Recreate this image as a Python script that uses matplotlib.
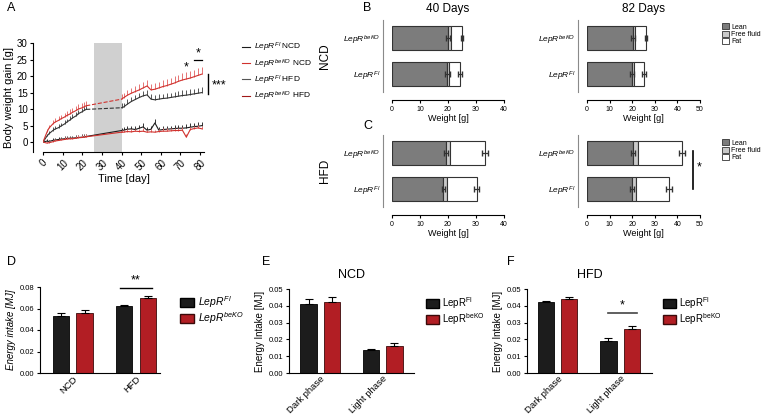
import numpy as np
import matplotlib
matplotlib.use('Agg')
import matplotlib.pyplot as plt
from matplotlib.lines import Line2D
from matplotlib.patches import Patch

plt.rcParams['font.family'] = ['Liberation Sans', 'DejaVu Sans']
plt.rcParams['mathtext.fontset'] = 'custom'
plt.rcParams['mathtext.rm'] = 'Liberation Sans'
plt.rcParams['mathtext.it'] = 'Liberation Sans:italic'
plt.rcParams['mathtext.bf'] = 'Liberation Sans:bold'

# ---- A: body weight gain over time ----
days = [0, 2, 3, 5, 6, 8, 9, 11, 12, 14, 15, 17, 18, 20, 21, 22,
        40, 41, 43, 45, 47, 49, 51, 53, 55, 57, 59, 61, 63, 65, 67, 69, 71, 73, 75, 77, 79, 81]
n_early = 16  # points before the gap (grey box)

fl_ncd = [0, 0.3, 0.2, 0.5, 0.6, 0.8, 0.9, 1.0, 1.1, 1.2, 1.2, 1.3, 1.4, 1.5, 1.6, 1.7,
          3.5, 3.6, 3.9, 4.0, 3.8, 4.2, 4.6, 3.6, 3.9, 5.8, 3.6, 3.8, 3.9, 4.0, 4.1, 4.2, 4.2, 4.3, 4.5, 4.7, 4.8, 5.0]
fl_ncd_err = [0.2, 0.5, 0.5, 0.6, 0.6, 0.6, 0.6, 0.7, 0.7, 0.7, 0.7, 0.7, 0.7, 0.8, 0.8, 0.8,
              0.9, 0.9, 1.0, 1.0, 1.0, 1.1, 1.1, 1.0, 1.0, 1.2, 1.0, 1.0, 1.0, 1.0, 1.1, 1.1, 1.1, 1.1, 1.2, 1.2, 1.2, 1.2]
ko_ncd = [0, -0.3, -0.2, 0.1, 0.3, 0.5, 0.6, 0.8, 0.9, 1.0, 1.0, 1.2, 1.3, 1.4, 1.5, 1.6,
          3.0, 3.0, 3.2, 3.1, 3.3, 3.2, 3.3, 3.0, 3.1, 3.0, 3.2, 3.3, 3.3, 3.4, 3.5, 3.5, 3.6, 1.5, 3.8, 4.1, 4.3, 4.0]
ko_ncd_err = [0.2, 0.4, 0.4, 0.5, 0.5, 0.5, 0.5, 0.6, 0.6, 0.6, 0.6, 0.6, 0.7, 0.7, 0.7, 0.7,
              0.8, 0.8, 0.8, 0.8, 0.8, 0.9, 0.9, 0.8, 0.8, 0.8, 0.8, 0.9, 0.9, 0.9, 0.9, 0.9, 0.9, 1.0, 0.9, 0.9, 0.9, 0.9]
fl_hfd = [0, 1.8, 2.5, 3.5, 3.9, 4.4, 4.8, 5.5, 6.0, 6.8, 7.3, 8.0, 8.6, 9.2, 9.6, 9.9,
          10.4, 10.6, 11.5, 12.3, 12.9, 13.5, 14.0, 14.3, 13.0, 12.8, 13.0, 13.2, 13.3, 13.5, 13.7, 13.9, 14.1, 14.2, 14.4, 14.6, 14.8, 15.0]
fl_hfd_err = [0.3, 0.8, 0.9, 1.0, 1.0, 1.0, 1.1, 1.1, 1.1, 1.2, 1.2, 1.2, 1.2, 1.2, 1.3, 1.3,
              1.3, 1.3, 1.4, 1.4, 1.4, 1.4, 1.5, 1.5, 1.5, 1.5, 1.5, 1.5, 1.5, 1.5, 1.6, 1.6, 1.6, 1.6, 1.6, 1.6, 1.7, 1.7]
ko_hfd = [0, 3.0, 4.2, 5.5, 6.0, 6.6, 7.0, 7.6, 8.0, 8.6, 9.0, 9.6, 10.0, 10.4, 10.7, 11.0,
          13.0, 13.4, 14.2, 14.8, 15.3, 15.8, 16.4, 17.0, 15.8, 16.0, 16.4, 16.8, 17.1, 17.5, 17.9, 18.4, 18.8, 19.1, 19.4, 19.8, 20.2, 20.6]
ko_hfd_err = [0.3, 1.0, 1.1, 1.2, 1.2, 1.3, 1.3, 1.3, 1.4, 1.4, 1.4, 1.4, 1.5, 1.5, 1.5, 1.5,
              1.6, 1.6, 1.7, 1.7, 1.8, 1.8, 1.8, 1.9, 1.8, 1.8, 1.9, 1.9, 1.9, 2.0, 2.0, 2.0, 2.0, 2.0, 2.1, 2.1, 2.1, 2.2]
gap_start, gap_end = 26, 40

# ---- B/C: body composition (rows: LepR beKO, LepR Fl) ----
lean_40_ncd = [20.0, 19.8]
fluid_40_ncd = [0.9, 0.7]
fat_40_ncd = [4.1, 3.8]
lean_err_40_ncd = [0.8, 0.9]
total_err_40_ncd = [0.5, 0.6]

lean_82_ncd = [20.4, 19.8]
fluid_82_ncd = [0.8, 0.8]
fat_82_ncd = [4.9, 4.7]
lean_err_82_ncd = [0.9, 0.9]
total_err_82_ncd = [0.5, 0.9]

lean_40_hfd = [19.3, 18.3]
fluid_40_hfd = [1.4, 1.3]
fat_40_hfd = [12.5, 10.7]
lean_err_40_hfd = [0.8, 0.6]
total_err_40_hfd = [1.2, 0.9]

lean_82_hfd = [20.4, 19.8]
fluid_82_hfd = [2.2, 1.8]
fat_82_hfd = [19.4, 14.7]
lean_err_82_hfd = [0.8, 0.9]
total_err_82_hfd = [1.3, 1.2]

# ---- D/E/F: energy intake ----
diet_groups = ['NCD', 'HFD']
intake_fl = [0.053, 0.062]
intake_fl_err = [0.003, 0.001]
intake_ko = [0.056, 0.070]
intake_ko_err = [0.003, 0.0012]

phases = ['Dark phase', 'Light phase']
ncd_phase_fl = [0.041, 0.0135]
ncd_phase_fl_err = [0.003, 0.001]
ncd_phase_ko = [0.042, 0.0158]
ncd_phase_ko_err = [0.003, 0.0018]
hfd_phase_fl = [0.042, 0.019]
hfd_phase_fl_err = [0.001, 0.002]
hfd_phase_ko = [0.044, 0.026]
hfd_phase_ko_err = [0.0015, 0.002]

RED = '#b21e24'
BLACK = '#1c1c1c'
LEAN = '#7c7c7c'
FLUID = '#c9c9c9'

W, H = 762, 416
fig = plt.figure(figsize=(W / 100, H / 100), dpi=100)


def box(x0, y0, x1, y1):
    return [x0 / W, 1 - y1 / H, (x1 - x0) / W, (y1 - y0) / H]


def prism(ax):
    ax.spines['top'].set_visible(False)
    ax.spines['right'].set_visible(False)
    ax.tick_params(direction='out', length=2.5, width=0.8, pad=1.5)


# ---------------- A ----------------
axA = fig.add_axes(box(43, 43, 204, 152))
prism(axA)
axA.spines['left'].set_position(('outward', 7))
axA.axvspan(gap_start, gap_end, color='#d0d0d0', lw=0, zorder=0)
series = [(fl_ncd, fl_ncd_err, BLACK, '#333333', '-'),
          (ko_ncd, ko_ncd_err, '#d0312d', '#e57373', '-'),
          (fl_hfd, fl_hfd_err, '#333333', '#555555', '--'),
          (ko_hfd, ko_hfd_err, '#d0312d', '#e57373', '--')]
d = np.array(days)
for vals, err, c, ec, gap_ls in series:
    v = np.array(vals)
    e = np.array(err)
    axA.errorbar(d, v, yerr=[np.zeros_like(e), e], fmt='none', ecolor=ec, elinewidth=0.7, capsize=0)
    axA.plot(d[:n_early], v[:n_early], color=c, lw=0.8)
    axA.plot(d[n_early - 1:n_early + 1], v[n_early - 1:n_early + 1], color=c, lw=0.8, ls=gap_ls)
    axA.plot(d[n_early:], v[n_early:], color=c, lw=0.8)
axA.set_xlim(0, 82)
axA.set_ylim(-3, 30)
axA.set_yticks(range(0, 31, 5))
axA.set_xticks(range(0, 81, 10))
axA.tick_params(axis='both', labelsize=7)
plt.setp(axA.get_xticklabels(), rotation=45)
axA.set_ylabel('Body weight gain [g]', fontsize=8, labelpad=2)
axA.set_xlabel('Time [day]', fontsize=8, labelpad=1)
axA.text(73, 22.5, '*', ha='center', va='center', fontsize=9)
axA.plot([77, 81], [25, 25], color='k', lw=0.9, clip_on=False)
axA.text(79, 26.8, '*', ha='center', va='center', fontsize=9)
axA.plot([84, 84], [14.5, 20.5], color='k', lw=1.0, clip_on=False)
axA.text(86, 17.2, '***', ha='left', va='center', fontsize=9)

legA = [Line2D([], [], color=BLACK, lw=0.8), Line2D([], [], color='#d0312d', lw=0.8),
        Line2D([], [], color='#555555', lw=0.8), Line2D([], [], color='#a01818', lw=0.8)]
fig.legend(legA, [r'$\mathit{LepR}^{\mathit{Fl}}$ NCD', r'$\mathit{LepR}^{\mathit{beKO}}$ NCD',
                  r'$\mathit{LepR}^{\mathit{Fl}}$ HFD', r'$\mathit{LepR}^{\mathit{beKO}}$ HFD'],
           loc='upper left', bbox_to_anchor=(238 / W, 1 - 37 / H), frameon=False, fontsize=6,
           handlelength=0.9, handletextpad=0.5, labelspacing=0.35, borderpad=0)


# ---------------- B / C ----------------
geno_labels = [r'$\mathit{LepR}^{\mathit{beKO}}$', r'$\mathit{LepR}^{\mathit{Fl}}$']


def body_comp(rect, lean, fluid, fat, lean_err, total_err, xmax, title=None):
    ax = fig.add_axes(box(*rect))
    prism(ax)
    pos = [1, 0]
    lean = np.array(lean)
    fluid = np.array(fluid)
    fat = np.array(fat)
    ax.barh(pos, lean, height=0.66, color=LEAN, edgecolor='#333333', lw=0.8)
    ax.barh(pos, fluid, left=lean, height=0.66, color=FLUID, edgecolor='#333333', lw=0.8)
    ax.barh(pos, fat, left=lean + fluid, height=0.66, color='white', edgecolor='#333333', lw=0.8)
    total = lean + fluid + fat
    ax.errorbar(lean, pos, xerr=lean_err, fmt='none', ecolor='#333333', elinewidth=0.9, capsize=2)
    ax.errorbar(total, pos, xerr=total_err, fmt='none', ecolor='#333333', elinewidth=0.9, capsize=2)
    ax.set_xlim(0, xmax)
    ax.set_ylim(-0.5, 1.5)
    ax.set_xticks(range(0, xmax + 1, 10))
    ax.set_yticks(pos)
    ax.set_yticklabels(geno_labels)
    ax.tick_params(axis='y', length=0, pad=2, labelsize=6)
    ax.tick_params(axis='x', labelsize=5, length=2.5)
    plt.setp(ax.get_xticklabels(), rotation=45)
    ax.spines['left'].set_position(('outward', 6.5))
    ax.spines['left'].set_color('#8a8a8a')
    ax.spines['bottom'].set_position(('outward', 5.8))
    ax.set_xlabel('Weight [g]', fontsize=6.5, labelpad=1)
    if title:
        ax.set_title(title, fontsize=8.5, pad=6)
    return ax


body_comp((392, 20, 504, 92), lean_40_ncd, fluid_40_ncd, fat_40_ncd,
          lean_err_40_ncd, total_err_40_ncd, 40, '40 Days')
body_comp((587, 20, 700, 92), lean_82_ncd, fluid_82_ncd, fat_82_ncd,
          lean_err_82_ncd, total_err_82_ncd, 50, '82 Days')
body_comp((392, 135, 504, 207), lean_40_hfd, fluid_40_hfd, fat_40_hfd,
          lean_err_40_hfd, total_err_40_hfd, 40)
axC2 = body_comp((587, 135, 700, 207), lean_82_hfd, fluid_82_hfd, fat_82_hfd,
                 lean_err_82_hfd, total_err_82_hfd, 50)
axC2.plot([47, 47], [0.0, 1.05], color='k', lw=1.2, clip_on=False)
axC2.text(48.5, 0.6, '*', fontsize=9, ha='left', va='center')

comp_handles = [Patch(facecolor=LEAN, edgecolor='#333333', lw=0.6),
                Patch(facecolor=FLUID, edgecolor='#333333', lw=0.6),
                Patch(facecolor='white', edgecolor='#333333', lw=0.6)]
for ytop in (20, 136):
    fig.legend(comp_handles, ['Lean', 'Free fluid', 'Fat'], loc='upper left',
               bbox_to_anchor=(719 / W, 1 - ytop / H), frameon=False, fontsize=5,
               handlelength=0.9, handleheight=0.9, labelspacing=0.0, handletextpad=0.35, borderpad=0)

fig.text(325 / W, 1 - 56 / H, 'NCD', rotation=90, ha='center', va='center', fontsize=8.5)
fig.text(325 / W, 1 - 171 / H, 'HFD', rotation=90, ha='center', va='center', fontsize=8.5)


# ---------------- D / E / F ----------------
def intake(rect, cats, fl, fl_err, ko, ko_err, ymax, step, xlim, ylabel, italic=False, title=None):
    ax = fig.add_axes(box(*rect))
    prism(ax)
    x = np.arange(len(cats))
    off = 0.187
    wid = 0.26
    ax.bar(x - off, fl, wid, yerr=[np.zeros(len(fl)), fl_err], color=BLACK, edgecolor='black', lw=0.6,
           error_kw=dict(elinewidth=0.8, capsize=3, capthick=0.8))
    ax.bar(x + off, ko, wid, yerr=[np.zeros(len(ko)), ko_err], color=RED, edgecolor='#3a0a0a', lw=0.6,
           error_kw=dict(elinewidth=0.8, capsize=3, capthick=0.8))
    ax.set_xlim(*xlim)
    ax.set_ylim(0, ymax)
    ax.set_yticks(np.arange(0, ymax + 1e-9, step))
    ax.yaxis.set_major_formatter(matplotlib.ticker.FormatStrFormatter('%.2f'))
    ax.tick_params(axis='y', labelsize=5.5)
    ax.set_xticks(x)
    ax.set_xticklabels(cats, rotation=45, ha='right', rotation_mode='anchor')
    ax.tick_params(axis='x', length=0, pad=1, labelsize=6.8)
    ax.set_ylabel(ylabel, fontsize=7, labelpad=3, fontstyle='italic' if italic else 'normal')
    if title:
        ax.set_title(title, fontsize=9, pad=8)
    return ax


axD = intake((40, 287, 160, 373), diet_groups, intake_fl, intake_fl_err, intake_ko, intake_ko_err,
             0.08, 0.02, (-0.52, 1.38), 'Energy intake [MJ]', italic=True)
axD.plot([1 - 0.26, 1 + 0.26], [0.0795, 0.0795], color='k', lw=1.0, clip_on=False)
axD.text(1, 0.0805, '**', ha='center', va='bottom', fontsize=9)

axE = intake((289, 289, 414, 373), phases, ncd_phase_fl, ncd_phase_fl_err, ncd_phase_ko, ncd_phase_ko_err,
             0.05, 0.01, (-0.5, 1.5), 'Energy Intake [MJ]', title='NCD')
axF = intake((527, 289, 652, 373), phases, hfd_phase_fl, hfd_phase_fl_err, hfd_phase_ko, hfd_phase_ko_err,
             0.05, 0.01, (-0.49, 1.51), 'Energy Intake [MJ]', title='HFD')
axF.plot([1 - 0.2, 1 + 0.27], [0.0357, 0.0357], color='#444444', lw=1.2)
axF.text(1.03, 0.0365, '*', ha='center', va='bottom', fontsize=9)

bar_handles = [Patch(facecolor=BLACK, edgecolor='black'), Patch(facecolor=RED, edgecolor='#3a0a0a')]
fig.legend(bar_handles, [r'$\mathit{LepR}^{\mathit{Fl}}$', r'$\mathit{LepR}^{\mathit{beKO}}$'],
           loc='upper left', bbox_to_anchor=(175 / W, 1 - 289 / H), frameon=False, fontsize=7.5,
           handlelength=1.3, handleheight=1.0, labelspacing=0.05, handletextpad=0.4, borderpad=0)
for xl in (421, 658):
    fig.legend(bar_handles, [r'LepR$^{\mathrm{Fl}}$', r'LepR$^{\mathrm{beKO}}$'],
               loc='upper left', bbox_to_anchor=(xl / W, 1 - 290 / H), frameon=False, fontsize=7,
               handlelength=1.3, handleheight=1.0, labelspacing=0.05, handletextpad=0.4, borderpad=0)

# panel letters
for letter, px, py in [('A', 7, 8), ('B', 363, 8), ('C', 363, 126),
                       ('D', 7, 262), ('E', 262, 262), ('F', 507, 262)]:
    fig.text(px / W, 1 - py / H, letter, fontsize=9, ha='left', va='center')

fig.savefig('out.png', dpi=100)
